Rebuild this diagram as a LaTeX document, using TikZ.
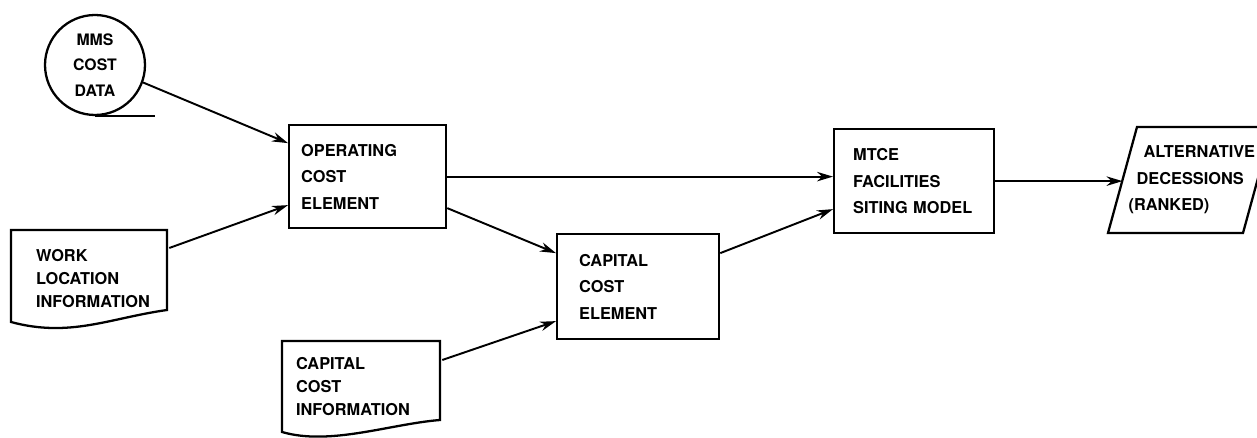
\documentclass[tikz,border=0pt]{standalone}
\usepackage{fontspec}
\setmainfont{TeX Gyre Heros}
\usetikzlibrary{arrows.meta}
\hyphenpenalty=10000

\begin{document}
\begin{tikzpicture}[x=0.02cm,y=-0.02cm,line width=1.3pt,
                txt/.style={font=\fontsize{9.3}{15}\selectfont\bfseries},
                blk/.style={draw,rectangle,anchor=north west,align=left,txt},
                doc/.style={rectangle,anchor=north west,align=left,font=\fontsize{9.3}{13}\selectfont\bfseries},
                flow/.style={line width=1.1pt,-{Stealth[length=0.32cm,width=0.19cm]}}]
                \useasboundingbox (0,0) rectangle (1257,438);
                \node[draw,circle,minimum size=2cm,inner sep=0pt,align=center,font=\fontsize{9}{14.5}\selectfont\bfseries] (mms) at (95,65) {MMS\\COST\\DATA};
                \draw (mms.south) -- ++(60,0);
                \node[blk,minimum width=3.14cm,minimum height=2.06cm,text width=2.66cm,inner xsep=0.24cm] (opcost) at (288,124) {OPERATING\\COST\\ELEMENT};
                \node[blk,minimum width=3.24cm,minimum height=2.1cm,text width=2.36cm,inner xsep=0.44cm] (capital) at (556,233) {CAPITAL\\COST\\ELEMENT};
                \node[blk,minimum width=3.2cm,minimum height=2.08cm,text width=2.44cm,inner xsep=0.38cm] (mtce) at (833,128) {MTCE\\FACILITIES\\SITING MODEL};
                \node[doc,minimum width=3.12cm,minimum height=1.9cm,text width=2.16cm,inner xsep=0.48cm] (work) at (11,230) {WORK\\LOCATION\\INFORMATION};
                \node[doc,minimum width=3.16cm,minimum height=1.78cm,text width=2.64cm,inner xsep=0.26cm] (capinfo) at (282,341) {CAPITAL\\COST\\INFORMATION};
                \node[anchor=west,align=left,inner xsep=0.1cm,txt] (alt) at (1122.5,180) {\hspace*{0.3cm}ALTERNATIVE\\\hspace*{0.16cm}DECESSIONS\\(RANKED)};
                \draw (11,230) -- (167,230) -- (167,310) .. controls (110,318) and (70,338) .. (11,322) -- cycle;
                \draw (282,341) -- (440,341) -- (440,420) .. controls (390,424) and (330,446) .. (282,432) -- cycle;
                \draw (1108,233) -- (1243,233) -- (1272,127) -- (1137,127) -- cycle;
                \draw[flow] (mms.-20) -- ([yshift=0.67cm]opcost.west);
                \draw[flow] ([yshift=-0.36cm]work.north east) -- ([yshift=-0.57cm]opcost.west);
                \draw[flow] (opcost.east) -- (opcost.east -| mtce.west);
                \draw[flow] ([yshift=-0.63cm]opcost.east) -- ([yshift=0.67cm]capital.west);
                \draw[flow] ([yshift=-0.38cm]capinfo.north east) -- ([yshift=-0.69cm]capital.west);
                \draw[flow] ([yshift=0.67cm]capital.east) -- ([yshift=-0.56cm]mtce.west);
                \draw[flow] (mtce.east) -- (mtce.east -| alt.west);
\end{tikzpicture}
\end{document}
